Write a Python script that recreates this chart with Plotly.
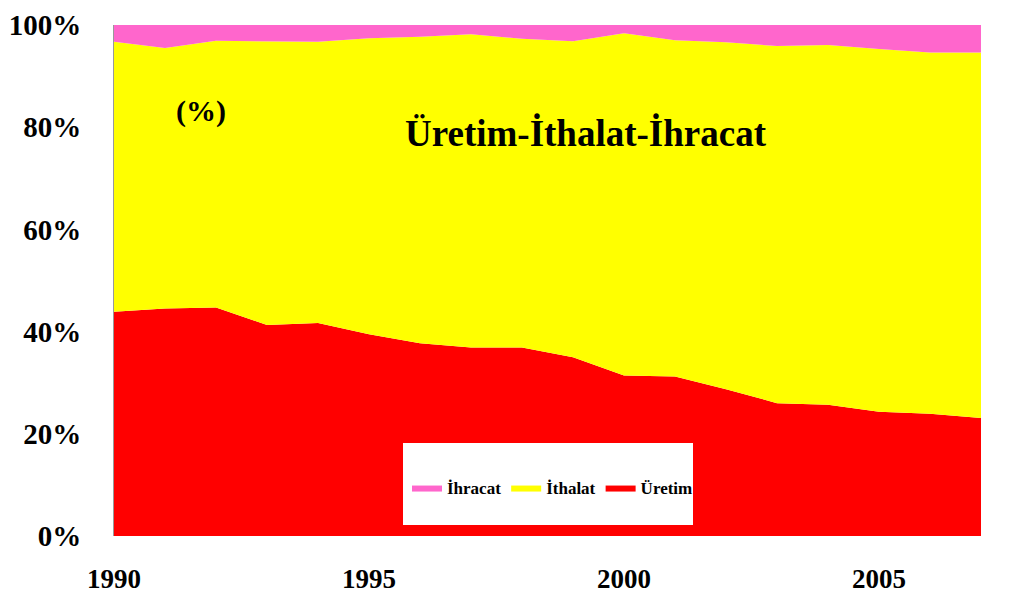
import plotly.graph_objects as go

years = list(range(1990, 2008))
# shares (%)
uretim = [43.9, 44.5, 44.7, 41.3, 41.7, 39.5, 37.7, 36.9, 36.9, 35.0, 31.4, 31.2, 28.7, 26.0, 25.7, 24.3, 23.9, 23.1]
ithalat_top = [96.7, 95.5, 96.9, 96.8, 96.7, 97.4, 97.7, 98.2, 97.3, 96.8, 98.4, 97.0, 96.6, 95.9, 96.1, 95.3, 94.6, 94.6]
ithalat = [round(t - u, 1) for t, u in zip(ithalat_top, uretim)]
ihracat = [round(100 - t, 1) for t in ithalat_top]

series_names = ["Üretim", "İthalat", "İhracat"]
series_values = [uretim, ithalat, ihracat]
series_colors = ["#FF0000", "#FFFF00", "#FF66CC"]

x_ticks = [1990, 1995, 2000, 2005]
y_ticks = [0, 20, 40, 60, 80, 100]

FONT = "Liberation Serif"

fig = go.Figure()
for name, vals, col in zip(series_names, series_values, series_colors):
    fig.add_trace(go.Scatter(
        x=years, y=vals, name=name, mode="lines", stackgroup="one",
        line=dict(width=0, color=col), fillcolor=col,
    ))

fig.update_layout(
    width=1024, height=606,
    margin=dict(l=114, r=43, t=25, b=70),
    paper_bgcolor="white", plot_bgcolor="white",
    showlegend=True,
    legend=dict(
        orientation="h", traceorder="reversed",
        x=(407 - 114) / 867, y=(536 - 488) / 511, xanchor="left", yanchor="middle",
        bgcolor="rgba(0,0,0,0)", itemwidth=30,
        font=dict(family=FONT, size=17, color="black", weight="bold"),
        tracegroupgap=0,
    ),
    xaxis=dict(
        range=[1990, 2007], tickvals=x_ticks, ticktext=[str(v) for v in x_ticks],
        showgrid=False, zeroline=False, showline=False, ticks="",
        ticklabelstandoff=24, automargin=False,
        tickfont=dict(family=FONT, size=27, color="black", weight="bold"),
    ),
    yaxis=dict(
        range=[0, 100], tickvals=y_ticks, ticktext=[f"{v}%" for v in y_ticks],
        showgrid=False, zeroline=False, showline=True, linecolor="#999999", linewidth=1,
        ticks="", ticklabelstandoff=26, automargin=False,
        tickfont=dict(family=FONT, size=29, color="black", weight="bold"),
    ),
    shapes=[dict(
        type="rect", xref="paper", yref="paper",
        x0=(403 - 114) / 867, x1=(693 - 114) / 867,
        y0=(536 - 525) / 511, y1=(536 - 443) / 511,
        fillcolor="white", line=dict(width=0), layer="above",
    )],
    annotations=[
        dict(text="(%)", xref="paper", yref="paper", x=(201 - 114) / 867, y=(536 - 111) / 511,
             xanchor="center", yanchor="middle",
             showarrow=False, font=dict(family=FONT, size=30, color="black", weight="bold")),
        dict(text="Üretim-İthalat-İhracat", xref="paper", yref="paper", x=(586 - 114) / 867,
             y=(536 - 133) / 511, xanchor="center", yanchor="middle",
             showarrow=False, font=dict(family=FONT, size=37, color="black", weight="bold")),
    ],
)

fig.write_html("out.html")
